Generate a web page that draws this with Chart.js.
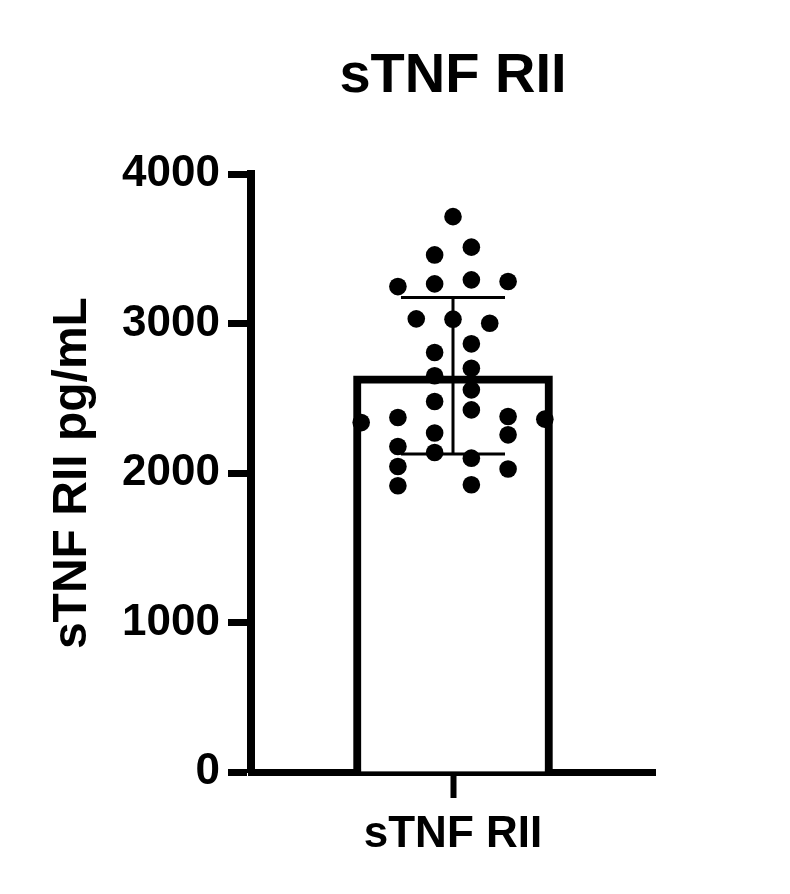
<!DOCTYPE html>
<html>
<head>
<meta charset="utf-8">
<script src="https://cdn.jsdelivr.net/npm/chart.js@4.4.1/dist/chart.umd.min.js"></script>
<style>
  body { margin: 0; background: #fff; }
  canvas { display: block; }
</style>
</head>
<body>
<canvas id="tnfChart" width="790" height="894"></canvas>
<script>
const categories = ['sTNF RII'];
// individual subjects, pg/mL
const sampleValues = [3716, 3460, 3512, 3248, 3266, 3293, 3282, 3032, 3030, 3003,
  2865, 2807, 2702, 2651, 2557, 2479, 2423, 2372, 2379, 2338,
  2361, 2268, 2256, 2178, 2138, 2100, 2044, 2027, 1915, 1922];
// horizontal slot of each dot in the swarm (column index, 0 = centre)
const sampleColumns = [0, -1, 1, -3, -1, 1, 3, -2, 0, 2,
  1, -1, 1, -1, 1, -1, 1, -3, 3, -5,
  5, -1, 3, -3, -1, 1, -3, 3, -3, 1];
const meanValues = [2651];
const sdValues = [524];
const yTicks = [0, 1000, 2000, 3000, 4000];

const fontFamily = "Arial, 'Liberation Sans', Helvetica, sans-serif";

const errorBars = {
  id: 'errorBars',
  afterDatasetDraw(chart, args) {
    if (args.meta.type !== 'bar') return;
    const ctx = chart.ctx;
    const y = chart.scales.y;
    args.meta.data.forEach((bar, i) => {
      const top = y.getPixelForValue(meanValues[i] + sdValues[i]);
      const bottom = y.getPixelForValue(meanValues[i] - sdValues[i]);
      const x = bar.x;
      ctx.save();
      ctx.strokeStyle = '#000';
      ctx.lineWidth = 3;
      ctx.beginPath();
      ctx.moveTo(x, top);
      ctx.lineTo(x, bottom);
      ctx.moveTo(x - 52, top);
      ctx.lineTo(x + 52, top);
      ctx.moveTo(x - 52, bottom);
      ctx.lineTo(x + 52, bottom);
      ctx.stroke();
      ctx.restore();
    });
  }
};

const ctx = document.getElementById('tnfChart').getContext('2d');
new Chart(ctx, {
  type: 'bar',
  data: {
    labels: categories,
    datasets: [
      {
        type: 'scatter',
        xAxisID: 'xs',
        data: sampleValues.map((v, i) => ({ x: sampleColumns[i], y: v })),
        backgroundColor: '#000',
        borderWidth: 0,
        pointRadius: 8.8,
        pointHoverRadius: 8.8
      },
      {
        type: 'bar',
        data: meanValues,
        backgroundColor: '#fff',
        borderColor: '#000',
        borderWidth: 8,
        borderSkipped: 'start',
        grouped: false,
        barThickness: 199
      }
    ]
  },
  plugins: [errorBars],
  options: {
    responsive: false,
    animation: false,
    layout: { padding: { left: 0, right: 135, top: 0, bottom: 0 } },
    plugins: {
      legend: { display: false },
      tooltip: { enabled: false },
      title: {
        display: true,
        fullSize: false,
        text: 'sTNF RII',
        color: '#000',
        font: { family: fontFamily, size: 56, weight: 'bold' },
        padding: { top: 43, bottom: 64 }
      }
    },
    scales: {
      x: {
        type: 'category',
        z: 1,
        offset: true,
        border: { display: true, width: 7, color: '#000' },
        grid: { offset: false, drawOnChartArea: false, tickLength: 26, tickWidth: 6, tickColor: '#000' },
        ticks: { color: '#000', padding: 10, font: { family: fontFamily, size: 44, weight: 'bold' } },
        afterFit(scale) { scale.height = 122; }
      },
      xs: {
        type: 'linear',
        display: false,
        offset: false,
        min: -11,
        max: 11
      },
      y: {
        min: yTicks[0],
        max: yTicks[yTicks.length - 1],
        afterBuildTicks(scale) { scale.ticks = yTicks.map(v => ({ value: v })); },
        border: { display: true, width: 8, color: '#000' },
        grid: { drawOnChartArea: false, tickLength: 23, tickWidth: 7, tickColor: '#000' },
        ticks: {
          color: '#000',
          padding: 8,
          font: { family: fontFamily, size: 44, weight: 'bold' },
          callback: v => String(v)
        },
        title: {
          display: true,
          text: 'sTNF RII pg/mL',
          color: '#000',
          font: { family: fontFamily, size: 48, weight: 'bold' },
          padding: { top: 44, bottom: 0 }
        },
        afterFit(scale) { scale.width = 251; }
      }
    }
  }
});
</script>
</body>
</html>
